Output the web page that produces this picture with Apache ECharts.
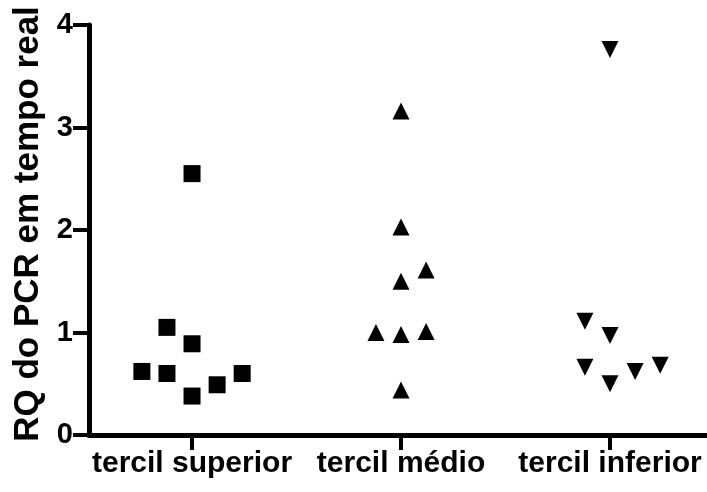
<!DOCTYPE html>
<html>
<head>
<meta charset="utf-8">
<script src="https://cdn.jsdelivr.net/npm/echarts@6/dist/echarts.min.js"></script>
<style>html,body{margin:0;padding:0;background:#fff}#c{width:707px;height:492px}</style>
</head>
<body>
<div id="c"></div>
<script>
var categories = ['tercil superior', 'tercil médio', 'tercil inferior'];
var yTicks = [0, 1, 2, 3, 4];
var superior = [2.55, 1.05, 0.89, 0.62, 0.60, 0.38, 0.49, 0.60];
var superiorSlot = [0, -1, 0, -2, -1, 0, 1, 2];
var medio = [3.16, 2.03, 1.61, 1.50, 1.00, 0.98, 1.01, 0.44];
var medioSlot = [0, 0, 1, 0, -1, 0, 1, 0];
var inferior = [3.76, 1.11, 0.97, 0.66, 0.50, 0.62, 0.68];
var inferiorSlot = [0, -1, 0, -1, 0, 1, 2];

var SLOT = 0.12;
function pts(ci, vals, slots) {
  return vals.map(function (v, i) { return [ci + slots[i] * SLOT, v]; });
}

var chart = echarts.init(document.getElementById('c'));
chart.setOption({
  backgroundColor: '#fff',
  animation: false,
  grid: { left: 89, right: 0, top: 25, bottom: 57, containLabel: false },
  xAxis: {
    type: 'value', min: -0.493, max: 2.464,
    splitLine: { show: false },
    axisLine: { show: true, onZero: false, lineStyle: { color: '#000', width: 5 } },
    axisTick: { show: true, length: 15, lineStyle: { color: '#000', width: 4 }, customValues: [0, 1, 2] },
    axisLabel: {
      customValues: [0, 1, 2], margin: 14, hideOverlap: false, showMinLabel: true, showMaxLabel: true,
      formatter: function (v) { return categories[Math.round(v)]; },
      color: '#000', fontSize: 30, fontWeight: 'bold', fontFamily: 'Liberation Sans'
    }
  },
  yAxis: {
    type: 'value', min: yTicks[0], max: yTicks[yTicks.length - 1], interval: 1,
    name: 'RQ do PCR em tempo real', nameLocation: 'middle', nameGap: 42,
    nameTextStyle: { color: '#000', fontSize: 35, fontWeight: 'bold', fontFamily: 'Liberation Sans', padding: [0, 0, 0, 12] },
    splitLine: { show: false },
    axisLine: { show: true, onZero: false, lineStyle: { color: '#000', width: 5 } },
    axisTick: { show: true, length: 16, lineStyle: { color: '#000', width: 4 } },
    axisLabel: { margin: 16, color: '#000', fontSize: 29, fontWeight: 'bold', fontFamily: 'Liberation Sans' }
  },
  series: [
    { type: 'scatter', data: pts(0, superior, superiorSlot), symbol: 'rect', symbolSize: 17, itemStyle: { color: '#000', opacity: 1 } },
    { type: 'scatter', data: pts(1, medio, medioSlot), symbol: 'triangle', symbolSize: 17, itemStyle: { color: '#000', opacity: 1 } },
    { type: 'scatter', data: pts(2, inferior, inferiorSlot), symbol: 'triangle', symbolRotate: 180, symbolSize: 17, itemStyle: { color: '#000', opacity: 1 } }
  ]
});
</script>
</body>
</html>
